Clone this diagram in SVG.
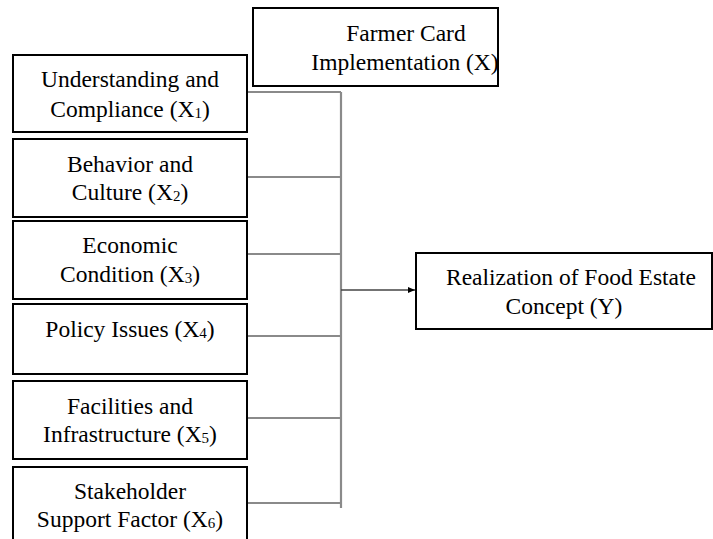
<svg xmlns="http://www.w3.org/2000/svg" width="713" height="539" viewBox="0 0 713 539">
<defs>
<style>
.box{fill:#fff;stroke:#000;stroke-width:2}
.t{font-family:'Liberation Serif','Times New Roman',serif;font-size:23.5px;fill:#000;text-anchor:middle}
.sub{font-size:15px}
.conn{stroke:#8a8a8a;stroke-width:2.2;fill:none}
.arr{stroke:#444;stroke-width:1.5;fill:none}
</style>
<marker id="ah" markerWidth="8" markerHeight="8" refX="7" refY="4" orient="auto" markerUnits="userSpaceOnUse">
<path d="M0,1 L7,4 L0,7 z" fill="#000"/>
</marker>
</defs>
<rect width="713" height="539" fill="#fff"/>
<g id="connectors">
<path class="conn" d="M247,92 H341 M247,177 H341 M247,254 H341 M247,336 H341 M247,418 H341 M247,503 H341 M341,92 V508"/>
<path class="arr" d="M341,290 H415" marker-end="url(#ah)"/>
</g>
<g id="X">
<rect class="box" x="253" y="8" width="245" height="78"/>
<text class="t" x="406" y="41">Farmer Card</text>
<text class="t" x="405" y="70">Implementation (X)</text>
</g>
<g id="X1">
<rect class="box" x="13" y="55" width="234" height="77"/>
<text class="t" x="130" y="87">Understanding and</text>
<text class="t" x="130" y="117">Compliance (X<tspan class="sub" dy="1">1</tspan><tspan dy="-1">)</tspan></text>
</g>
<g id="X2">
<rect class="box" x="13" y="139" width="234" height="78"/>
<text class="t" x="130" y="172">Behavior and</text>
<text class="t" x="130" y="200">Culture (X<tspan class="sub" dy="1">2</tspan><tspan dy="-1">)</tspan></text>
</g>
<g id="X3">
<rect class="box" x="13" y="221" width="234" height="78"/>
<text class="t" x="130" y="253">Economic</text>
<text class="t" x="130" y="282">Condition (X<tspan class="sub" dy="1">3</tspan><tspan dy="-1">)</tspan></text>
</g>
<g id="X4">
<rect class="box" x="13" y="304" width="234" height="70"/>
<text class="t" x="130" y="337">Policy Issues (X<tspan class="sub" dy="1">4</tspan><tspan dy="-1">)</tspan></text>
</g>
<g id="X5">
<rect class="box" x="13" y="381" width="234" height="78"/>
<text class="t" x="130" y="414">Facilities and</text>
<text class="t" x="130" y="442">Infrastructure (X<tspan class="sub" dy="1">5</tspan><tspan dy="-1">)</tspan></text>
</g>
<g id="X6">
<rect class="box" x="13" y="467" width="234" height="80"/>
<text class="t" x="130" y="499">Stakeholder</text>
<text class="t" x="130" y="527">Support Factor (X<tspan class="sub" dy="1">6</tspan><tspan dy="-1">)</tspan></text>
</g>
<g id="Y">
<rect class="box" x="416" y="253" width="296" height="76"/>
<text class="t" x="571" y="285">Realization of Food Estate</text>
<text class="t" x="564" y="314">Concept (Y)</text>
</g>
</svg>
